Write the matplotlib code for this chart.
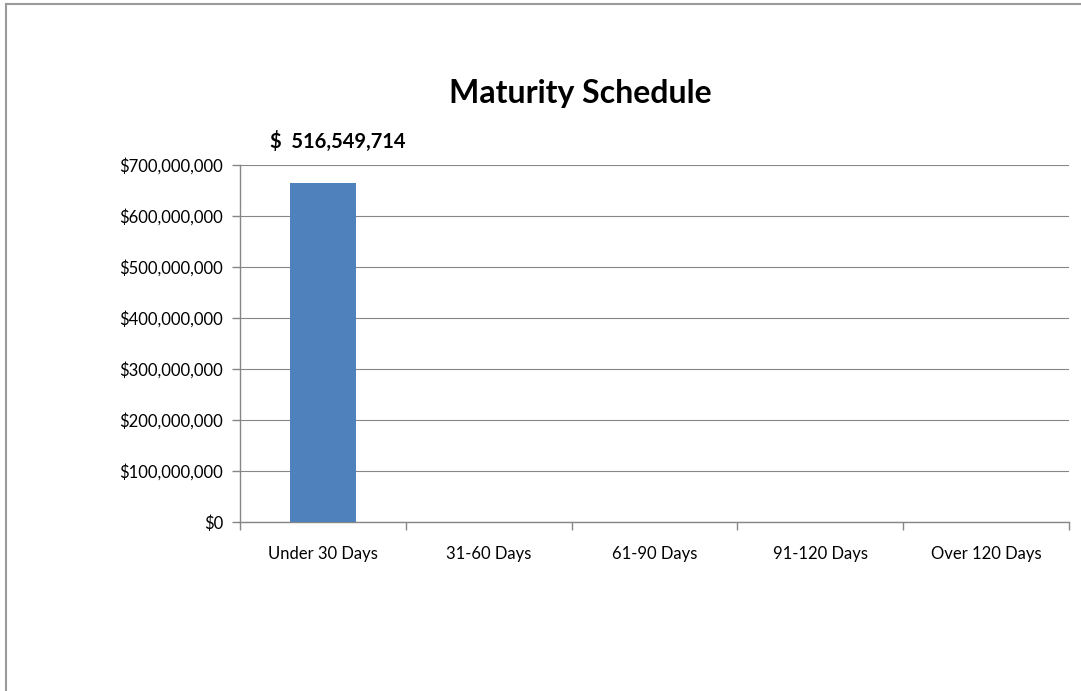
import matplotlib.pyplot as plt
import matplotlib.transforms as mtransforms
from matplotlib.lines import Line2D
from matplotlib.ticker import FuncFormatter, MultipleLocator

plt.rcParams['font.family'] = ['Lato', 'DejaVu Sans']

categories = ['Under 30 Days', '31-60 Days', '61-90 Days', '91-120 Days', 'Over 120 Days']
values = [664000000, 0, 0, 0, 0]
label_text = '$  516,549,714'
title = 'Maturity Schedule'

W, H = 1081, 691
fig = plt.figure(figsize=(W/100, H/100), dpi=100)
# outer chart border (left and top edges visible)
fig.add_artist(Line2D([5.5/W, 5.5/W], [0, 1 - 3.5/H], transform=fig.transFigure, color='#9a9a9a', lw=1.5))
fig.add_artist(Line2D([5.5/W, 1], [1 - 3.5/H, 1 - 3.5/H], transform=fig.transFigure, color='#9a9a9a', lw=1.5))

ax = fig.add_axes([240/W, 1 - 522/H, 829/W, 357/H])
x = list(range(len(categories)))
ax.bar(x, values, width=0.4, color='#4f81bd', zorder=3)
ax.set_xlim(-0.5, len(categories) - 0.5)
ax.set_ylim(0, 700000000)
ax.yaxis.set_major_locator(MultipleLocator(100000000))
ax.yaxis.set_major_formatter(FuncFormatter(lambda v, p: '${:,.0f}'.format(v)))
ax.grid(axis='y', color='#868686', lw=0.8, zorder=0)
ax.set_xticks(x)
ax.set_xticklabels(categories, fontsize=12)
ax.set_xticks([i - 0.5 for i in range(len(categories) + 1)], minor=True)
ax.tick_params(axis='x', which='major', length=0, pad=17)
ax.tick_params(axis='x', which='minor', length=6, color='#868686', width=1)
ax.tick_params(axis='y', length=6, color='#868686', width=1, labelsize=12, pad=6)
for s in ['top', 'right']:
    ax.spines[s].set_visible(False)
for s in ['left', 'bottom']:
    ax.spines[s].set_color('#868686')
    ax.spines[s].set_linewidth(1)

# data label sits above the plot area, over the first bar
trans = mtransforms.blended_transform_factory(ax.transData, fig.transFigure)
ax.text(0.088, 1 - 147.5/H, label_text, transform=trans, ha='center', va='baseline',
        fontsize=14.5, fontweight='bold', clip_on=False)
fig.text(580/W, 1 - 103/H, title, ha='center', va='baseline', fontsize=23, fontweight='bold')

fig.savefig('out.png', dpi=100)
